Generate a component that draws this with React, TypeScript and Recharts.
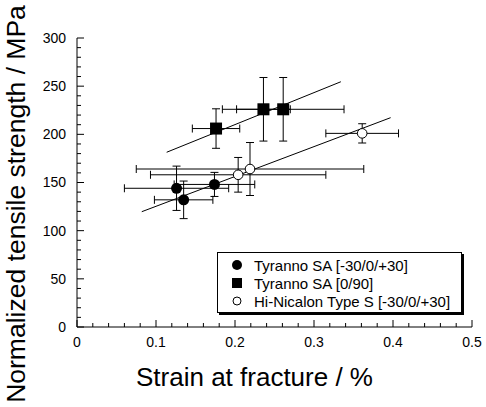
import React from "react";
import {
  ScatterChart,
  Scatter,
  XAxis,
  YAxis,
  ErrorBar,
  Label,
  Legend,
} from "recharts";

const FONT = '"Liberation Sans", Arial, Helvetica, sans-serif';

// Tyranno SA [-30/0/+30]
const tsaStrain = [0.126, 0.135, 0.174];
const tsaStrength = [144, 132, 148];
const tsaStrainErr = [0.066, 0.037, 0.051];
const tsaStrengthErr = [23, 19.5, 12.5];

// Tyranno SA [0/90]
const cpStrain = [0.176, 0.236, 0.261];
const cpStrength = [206, 226, 226];
const cpStrainErr = [0.03, 0.034, 0.077];
const cpStrengthErr = [20.5, 33, 33];

// Hi-Nicalon Type S [-30/0/+30]
const hnStrain = [0.204, 0.219, 0.361];
const hnStrength = [158, 164, 201];
const hnStrainErr = [0.111, 0.144, 0.046];
const hnStrengthErr = [18, 27.5, 10];

// fitted lines, end points
const upperFitX = [0.1135, 0.334];
const upperFitY = [181.4, 254.6];
const lowerFitX = [0.082, 0.397];
const lowerFitY = [119.7, 217.3];

const seriesNames = [
  "Tyranno SA [-30/0/+30]",
  "Tyranno SA [0/90]",
  "Hi-Nicalon Type S [-30/0/+30]",
];

const xTicks = [0, 0.1, 0.2, 0.3, 0.4, 0.5];
const yTicks = [0, 50, 100, 150, 200, 250, 300];
const xMinor = Array.from({ length: 26 }, (_, i) => (i * 2) / 100);
const yMinor = Array.from({ length: 31 }, (_, i) => i * 10);

const toPoints = (xs: number[], ys: number[], xe?: number[], ye?: number[]) =>
  xs.map((x, i) => ({ x, y: ys[i], xErr: xe ? xe[i] : 0, yErr: ye ? ye[i] : 0 }));

const tsaData = toPoints(tsaStrain, tsaStrength, tsaStrainErr, tsaStrengthErr);
const cpData = toPoints(cpStrain, cpStrength, cpStrainErr, cpStrengthErr);
const hnData = toPoints(hnStrain, hnStrength, hnStrainErr, hnStrengthErr);
const upperFit = toPoints(upperFitX, upperFitY);
const lowerFit = toPoints(lowerFitX, lowerFitY);

const isMajor = (v: number, list: number[]) => list.some((t) => Math.abs(t - v) < 1e-9);

const X_GAP = 10;
const Y_GAP = 11;
const MAJOR = 7;
const MINOR = 4;

const BottomTick = (props: any) => {
  const { x, y, payload } = props;
  const major = isMajor(payload.value, xTicks);
  const axisY = y - X_GAP;
  return (
    <g>
      <line x1={x} x2={x} y1={axisY} y2={axisY - (major ? MAJOR : MINOR)} stroke="#000" />
      {major && (
        <text x={x} y={y} dy="0.71em" textAnchor="middle" fontSize={14} fontFamily={FONT} fill="#000">
          {payload.value}
        </text>
      )}
    </g>
  );
};

const TopTick = (props: any) => {
  const { x, y, payload } = props;
  const major = isMajor(payload.value, xTicks);
  return <line x1={x} x2={x} y1={y} y2={y + (major ? MAJOR : MINOR)} stroke="#000" />;
};

const LeftTick = (props: any) => {
  const { x, y, payload } = props;
  const major = isMajor(payload.value, yTicks);
  const axisX = x + Y_GAP;
  return (
    <g>
      <line x1={axisX} x2={axisX + (major ? MAJOR : MINOR)} y1={y} y2={y} stroke="#000" />
      {major && (
        <text x={x} y={y} dy="0.355em" textAnchor="end" fontSize={14} fontFamily={FONT} fill="#000">
          {payload.value}
        </text>
      )}
    </g>
  );
};

const RightTick = (props: any) => {
  const { x, y, payload } = props;
  const major = isMajor(payload.value, yTicks);
  return <line x1={x} x2={x - (major ? MAJOR : MINOR)} y1={y} y2={y} stroke="#000" />;
};

const Dot = (props: any) => <circle cx={props.cx} cy={props.cy} r={5.5} fill="#000" />;
const Box = (props: any) => <rect x={props.cx - 6} y={props.cy - 6} width={12} height={12} fill="#000" />;
const Ring = (props: any) => (
  <circle cx={props.cx} cy={props.cy} r={4.8} fill="#fff" stroke="#000" strokeWidth={1} />
);
const Nothing = () => <g />;

const legendMarkers = [
  <circle cx={7} cy={7} r={5} fill="#000" />,
  <rect x={2} y={2} width={10} height={10} fill="#000" />,
  <circle cx={7} cy={7} r={4} fill="#fff" stroke="#000" />,
];

const LegendBox = () => (
  <div
    style={{
      width: 245,
      height: 61,
      boxSizing: "border-box",
      border: "1.5px solid #000",
      boxShadow: "2px 2px 0 #000",
      background: "#fff",
      paddingTop: 3,
      fontFamily: FONT,
      fontSize: 15,
      color: "#000",
    }}
  >
    {seriesNames.map((name, i) => (
      <div key={name} style={{ display: "flex", alignItems: "center", height: 18 }}>
        <svg width={14} height={14} style={{ marginLeft: 12, marginRight: 10 }}>
          {legendMarkers[i]}
        </svg>
        <span style={{ whiteSpace: "nowrap" }}>{name}</span>
      </div>
    ))}
  </div>
);

export default function App() {
  return (
    <div style={{ position: "absolute", left: 0, top: 0, background: "#fff" }}>
      <ScatterChart width={486} height={407} margin={{ top: 38, right: 14, bottom: 0, left: 0 }}>
        <XAxis
          dataKey="x"
          type="number"
          domain={[0, 0.5]}
          ticks={xMinor}
          interval={0}
          allowDataOverflow
          height={80}
          axisLine={{ stroke: "#000" }}
          tickLine={false}
          tickSize={0}
          tickMargin={X_GAP}
          tick={<BottomTick />}
        >
          <Label
            value="Strain at fracture / %"
            position="insideBottom"
            offset={21}
            dx={-20}
            fontSize={26}
            fontFamily={FONT}
            fill="#000"
          />
        </XAxis>
        <XAxis
          xAxisId="top"
          orientation="top"
          dataKey="x"
          type="number"
          domain={[0, 0.5]}
          ticks={xMinor}
          interval={0}
          allowDataOverflow
          height={0}
          axisLine={{ stroke: "#000" }}
          tickLine={false}
          tickSize={0}
          tickMargin={0}
          tick={<TopTick />}
        />
        <YAxis
          dataKey="y"
          type="number"
          domain={[0, 300]}
          ticks={yMinor}
          interval={0}
          allowDataOverflow
          width={77}
          axisLine={{ stroke: "#000" }}
          tickLine={false}
          tickSize={0}
          tickMargin={Y_GAP}
          tick={<LeftTick />}
        >
          <Label
            value="Normalized tensile strength / MPa"
            position="center"
            angle={-90}
            dx={-22.5}
            dy={21.5}
            fontSize={26.5}
            fontFamily={FONT}
            fill="#000"
          />
        </YAxis>
        <YAxis
          yAxisId="right"
          orientation="right"
          dataKey="y"
          type="number"
          domain={[0, 300]}
          ticks={yMinor}
          interval={0}
          allowDataOverflow
          width={0}
          axisLine={{ stroke: "#000" }}
          tickLine={false}
          tickSize={0}
          tickMargin={0}
          tick={<RightTick />}
        />
        <Legend
          layout="vertical"
          align="center"
          verticalAlign="middle"
          width={245}
          height={61}
          wrapperStyle={{ left: 217, top: 252, width: 245, height: 61 }}
          content={() => <LegendBox />}
        />
        <Scatter
          data={upperFit}
          line={{ stroke: "#000", strokeWidth: 1 }}
          shape={<Nothing />}
          legendType="none"
          isAnimationActive={false}
        />
        <Scatter
          data={lowerFit}
          line={{ stroke: "#000", strokeWidth: 1 }}
          shape={<Nothing />}
          legendType="none"
          isAnimationActive={false}
        />
        <Scatter name={seriesNames[0]} data={tsaData} shape={<Dot />} isAnimationActive={false}>
          <ErrorBar dataKey="xErr" direction="x" width={4} stroke="#000" strokeWidth={1} />
          <ErrorBar dataKey="yErr" direction="y" width={4} stroke="#000" strokeWidth={1} />
        </Scatter>
        <Scatter name={seriesNames[1]} data={cpData} shape={<Box />} isAnimationActive={false}>
          <ErrorBar dataKey="xErr" direction="x" width={4} stroke="#000" strokeWidth={1} />
          <ErrorBar dataKey="yErr" direction="y" width={4} stroke="#000" strokeWidth={1} />
        </Scatter>
        <Scatter name={seriesNames[2]} data={hnData} shape={<Ring />} isAnimationActive={false}>
          <ErrorBar dataKey="xErr" direction="x" width={4} stroke="#000" strokeWidth={1} />
          <ErrorBar dataKey="yErr" direction="y" width={4} stroke="#000" strokeWidth={1} />
        </Scatter>
      </ScatterChart>
    </div>
  );
}
